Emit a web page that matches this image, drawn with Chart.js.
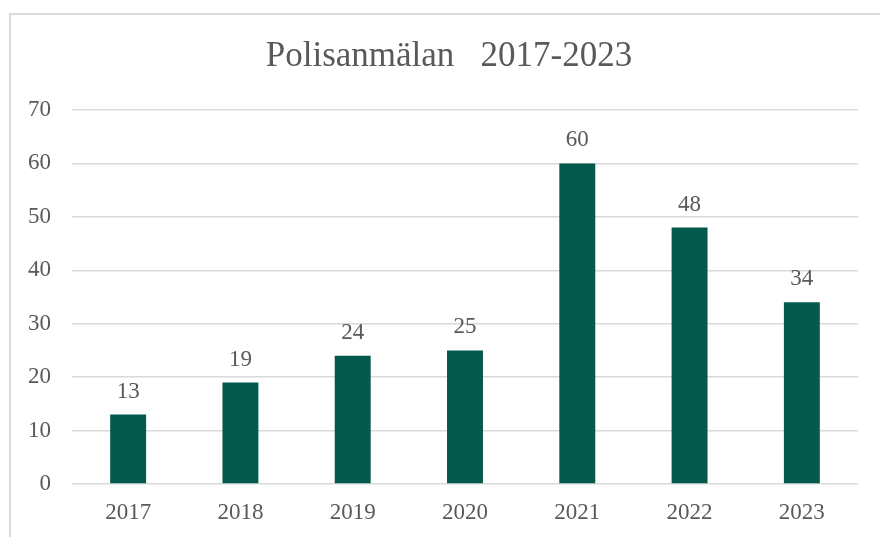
<!DOCTYPE html>
<html><head><meta charset="utf-8">
<script src="https://cdn.jsdelivr.net/npm/chart.js@4"></script>
<style>
html,body{margin:0;padding:0;background:#fff;overflow:hidden;}
#frame{position:absolute;left:9px;top:13px;width:900px;height:560px;border-left:2px solid #d9d9d9;border-top:2px solid #d9d9d9;box-sizing:border-box;}
#wrap{position:absolute;left:0;top:0;width:880px;height:537px;}
</style></head>
<body>
<div id="frame"></div>
<div id="wrap"><canvas id="c" width="880" height="537"></canvas></div>
<script>
const categories = ["2017","2018","2019","2020","2021","2022","2023"];
const values = [13,19,24,25,60,48,34];
const titleText = "Polisanmälan   2017-2023";

const txt = "#595959";
const fam = "'Liberation Serif','Times New Roman',serif";

const labelPlugin = {
  id: 'barLabels',
  afterDatasetsDraw(chart) {
    const ctx = chart.ctx;
    const meta = chart.getDatasetMeta(0);
    ctx.save();
    ctx.fillStyle = txt;
    ctx.font = "23px " + fam;
    ctx.textAlign = "center";
    ctx.textBaseline = "middle";
    meta.data.forEach((bar, i) => {
      ctx.fillText(String(chart.data.datasets[0].data[i]), bar.x, bar.y - 23);
    });
    // chart title (centred on the original, wider chart frame)
    ctx.font = "35px " + fam;
    ctx.fillText(titleText, 449, 57);
    ctx.restore();
  }
};

new Chart(document.getElementById('c'), {
  type: 'bar',
  data: {
    labels: categories,
    datasets: [{
      data: values,
      backgroundColor: '#02594C',
      categoryPercentage: 1,
      barPercentage: 0.32
    }]
  },
  options: {
    responsive: false,
    animation: false,
    devicePixelRatio: 1,
    layout: { padding: { left: 0, right: 22, top: 110, bottom: 0 } },
    plugins: {
      legend: { display: false },
      tooltip: { enabled: false },
      title: { display: false }
    },
    scales: {
      x: {
        afterFit(s) { s.height = 53; },
        grid: { display: false, drawTicks: false },
        border: { display: false },
        ticks: { color: txt, font: { family: fam, size: 23 }, padding: 15 }
      },
      y: {
        min: 0, max: 70,
        afterFit(s) { s.width = 72; },
        grid: { color: '#d9d9d9', lineWidth: 1.5, drawTicks: false },
        border: { display: false },
        ticks: { stepSize: 10, color: txt, font: { family: fam, size: 23 }, padding: 21 }
      }
    }
  },
  plugins: [labelPlugin]
});
</script>
</body></html>
